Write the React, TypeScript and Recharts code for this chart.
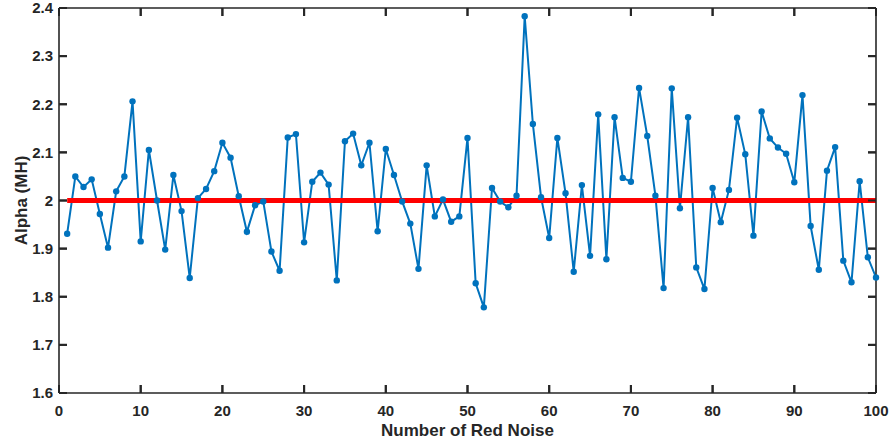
import React from 'react';
import { LineChart, Line, XAxis, YAxis, Label, ReferenceLine } from 'recharts';

// alpha estimate per realisation of red noise (runs 1..100)
const alphaValues = [
  1.931, 2.050, 2.028, 2.044, 1.972, 1.902, 2.019, 2.050, 2.206, 1.915,
  2.105, 2.000, 1.898, 2.053, 1.978, 1.839, 2.005, 2.024, 2.061, 2.120,
  2.089, 2.009, 1.935, 1.990, 1.998, 1.894, 1.854, 2.131, 2.138, 1.913,
  2.039, 2.058, 2.033, 1.834, 2.123, 2.139, 2.073, 2.120, 1.936, 2.107,
  2.053, 1.998, 1.952, 1.858, 2.073, 1.967, 2.002, 1.956, 1.967, 2.130,
  1.828, 1.778, 2.026, 1.998, 1.986, 2.010, 2.383, 2.159, 2.007, 1.922,
  2.130, 2.015, 1.852, 2.032, 1.885, 2.179, 1.878, 2.173, 2.047, 2.039,
  2.234, 2.134, 2.010, 1.818, 2.233, 1.984, 2.173, 1.861, 1.816, 2.026,
  1.955, 2.022, 2.172, 2.096, 1.927, 2.185, 2.129, 2.110, 2.097, 2.038,
  2.219, 1.947, 1.856, 2.062, 2.111, 1.875, 1.830, 2.040, 1.882, 1.840,
];
const runs = alphaValues.map((_, i) => i + 1);
const REF_ALPHA = 2;

const xTicks = [0, 10, 20, 30, 40, 50, 60, 70, 80, 90, 100];
const yTicks = [1.6, 1.7, 1.8, 1.9, 2.0, 2.1, 2.2, 2.3, 2.4];
const X_DOMAIN = [0, 100];
const Y_DOMAIN = [1.6, 2.4];

const data = runs.map((run, i) => ({ run, alpha: alphaValues[i], ref: REF_ALPHA }));

const AXIS = '#262626';
const BLUE = '#0072BD';
const FONT = '"Liberation Sans", Arial, sans-serif';
const TICK_LEN = 8;
// inner tick length expressed in axis units (plot is 817 x 385 px)
const TICK_DX = ((X_DOMAIN[1] - X_DOMAIN[0]) * TICK_LEN) / 817;
const TICK_DY = ((Y_DOMAIN[1] - Y_DOMAIN[0]) * TICK_LEN) / 385;

const fmtY = (v: number) => (v === 2 ? '2' : v.toFixed(1));
const noLabel = () => '';
const tickStyle = { fill: AXIS, fontFamily: FONT, fontWeight: 'bold', fontSize: 15 };

const XLabel = ({ viewBox }: any) => {
  const cx = viewBox.x + viewBox.width / 2;
  return (
    <text x={cx} y={436} textAnchor="middle" fill={AXIS} fontFamily={FONT} fontWeight="bold" fontSize={17}>
      Number of Red Noise
    </text>
  );
};

const YLabel = ({ viewBox }: any) => {
  const cy = viewBox.y + viewBox.height / 2;
  const lx = 27;
  return (
    <text
      x={lx}
      y={cy}
      transform={`rotate(-90, ${lx}, ${cy})`}
      textAnchor="middle"
      fill={AXIS}
      fontFamily={FONT}
      fontWeight="bold"
      fontSize={17}
    >
      Alpha (MH)
    </text>
  );
};

export default function App() {
  return (
    <div style={{ position: 'absolute', left: 0, top: 0, width: 891, height: 444, background: '#fff' }}>
      <LineChart width={891} height={444} data={data} margin={{ top: 7, right: 14, left: 0, bottom: 0 }}>
        <XAxis
          dataKey="run"
          type="number"
          domain={X_DOMAIN}
          ticks={xTicks}
          interval={0}
          height={51}
          stroke={AXIS}
          strokeWidth={1.6}
          tickSize={-TICK_LEN}
          tickMargin={20}
          tickLine={{ stroke: AXIS, strokeWidth: 2 }}
          tick={tickStyle}
        >
          <Label content={<XLabel />} />
        </XAxis>
        <XAxis
          xAxisId="top"
          orientation="top"
          dataKey="run"
          type="number"
          domain={X_DOMAIN}
          ticks={xTicks}
          interval={0}
          height={1}
          stroke={AXIS}
          strokeWidth={1.6}
          tickSize={-TICK_LEN}
          tickLine={{ stroke: AXIS, strokeWidth: 2 }}
          tickFormatter={noLabel}
        />
        <YAxis
          type="number"
          domain={Y_DOMAIN}
          ticks={yTicks}
          interval={0}
          width={59}
          stroke={AXIS}
          strokeWidth={1.6}
          tickSize={-TICK_LEN}
          tickMargin={14}
          tickLine={{ stroke: AXIS, strokeWidth: 2 }}
          tick={tickStyle}
          tickFormatter={fmtY}
        >
          <Label content={<YLabel />} />
        </YAxis>
        <YAxis
          yAxisId="right"
          orientation="right"
          type="number"
          domain={Y_DOMAIN}
          ticks={yTicks}
          interval={0}
          width={1}
          stroke={AXIS}
          strokeWidth={1.6}
          tickSize={-TICK_LEN}
          tickLine={{ stroke: AXIS, strokeWidth: 2 }}
          tickFormatter={noLabel}
        />

        {/* inward tick marks on all four sides of the box */}
        {xTicks.map((t) => (
          <ReferenceLine
            key={`xb-${t}`}
            segment={[{ x: t, y: Y_DOMAIN[0] }, { x: t, y: Y_DOMAIN[0] + TICK_DY }]}
            stroke={AXIS}
            strokeWidth={2}
          />
        ))}
        {xTicks.map((t) => (
          <ReferenceLine
            key={`xt-${t}`}
            segment={[{ x: t, y: Y_DOMAIN[1] }, { x: t, y: Y_DOMAIN[1] - TICK_DY }]}
            stroke={AXIS}
            strokeWidth={2}
          />
        ))}
        {yTicks.map((t) => (
          <ReferenceLine
            key={`yl-${t}`}
            segment={[{ x: X_DOMAIN[0], y: t }, { x: X_DOMAIN[0] + TICK_DX, y: t }]}
            stroke={AXIS}
            strokeWidth={2}
          />
        ))}
        {yTicks.map((t) => (
          <ReferenceLine
            key={`yr-${t}`}
            segment={[{ x: X_DOMAIN[1], y: t }, { x: X_DOMAIN[1] - TICK_DX, y: t }]}
            stroke={AXIS}
            strokeWidth={2}
          />
        ))}

        <Line
          dataKey="alpha"
          stroke={BLUE}
          strokeWidth={2}
          dot={{ r: 3.2, fill: BLUE, stroke: BLUE, strokeWidth: 0 }}
          isAnimationActive={false}
        />
        <Line
          xAxisId="top"
          yAxisId="right"
          dataKey="ref"
          stroke="#FF0000"
          strokeWidth={5}
          dot={false}
          isAnimationActive={false}
        />
      </LineChart>
    </div>
  );
}
